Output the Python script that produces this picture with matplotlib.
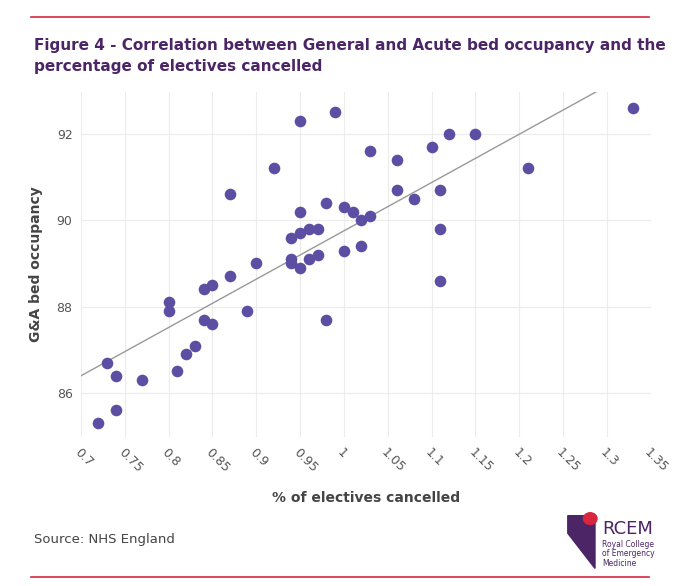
import matplotlib
matplotlib.use('agg')
from matplotlib import pyplot as plt
import numpy as np

cancelled = [0.72, 0.73, 0.74, 0.74, 0.77, 0.80, 0.80, 0.81, 0.82, 0.83, 0.84, 0.84, 0.85, 0.85,
             0.87, 0.87, 0.89, 0.90, 0.92, 0.94, 0.94, 0.94, 0.95, 0.95, 0.95, 0.95, 0.96, 0.96,
             0.97, 0.97, 0.98, 0.98, 0.99, 1.00, 1.00, 1.01, 1.02, 1.02, 1.03, 1.03, 1.06, 1.06,
             1.08, 1.10, 1.11, 1.11, 1.11, 1.12, 1.15, 1.21, 1.33]
occupancy = [85.3, 86.7, 86.4, 85.6, 86.3, 88.1, 87.9, 86.5, 86.9, 87.1, 88.4, 87.7, 88.5, 87.6,
             88.7, 90.6, 87.9, 89.0, 91.2, 89.6, 89.1, 89.0, 92.3, 90.2, 89.7, 88.9, 89.8, 89.1,
             89.8, 89.2, 90.4, 87.7, 92.5, 90.3, 89.3, 90.2, 90.0, 89.4, 91.6, 90.1, 91.4, 90.7,
             90.5, 91.7, 90.7, 89.8, 88.6, 92.0, 92.0, 91.2, 92.6]
trend_x = [0.70, 1.29]
trend_y = [86.4, 93.0]
x_ticks = [0.7, 0.75, 0.8, 0.85, 0.9, 0.95, 1, 1.05, 1.1, 1.15, 1.2, 1.25, 1.3, 1.35]
y_ticks = [86, 88, 90, 92]

purple = '#5b4ea3'
red = '#d7263d'
text_grey = '#444444'

fig = plt.figure(figsize=(6.8, 5.86), dpi=100)
ax = fig.add_axes([0.119, 0.254, 0.838, 0.589])

ax.plot(trend_x, trend_y, color='#999999', linewidth=1, zorder=2)
ax.scatter(cancelled, occupancy, s=70, color=purple, zorder=3, linewidths=0)

ax.set_xlim(0.7, 1.35)
ax.set_ylim(84.98, 92.97)
ax.set_xticks(x_ticks)
ax.set_xticklabels([f'{t:g}' for t in x_ticks], rotation=-45, ha='left', rotation_mode='anchor')
ax.set_yticks(y_ticks)
ax.tick_params(length=0, labelsize=9, colors='#555555', pad=6)
ax.grid(color='#ececec', linewidth=0.8)
ax.set_axisbelow(True)
for s in ax.spines.values():
    s.set_visible(False)

ax.set_xlabel('% of electives cancelled', fontsize=10, fontweight='bold', color=text_grey, labelpad=12)
ax.set_ylabel('G&A bed occupancy', fontsize=10, fontweight='bold', color=text_grey, labelpad=10)

fig.text(0.05, 0.905, 'Figure 4 - Correlation between General and Acute bed occupancy and the\n'
         'percentage of electives cancelled', fontsize=11, fontweight='bold', color='#4b2566',
         va='center', linespacing=1.5)
fig.text(0.05, 0.08, 'Source: NHS England', fontsize=9.5, color=text_grey, va='center')

fig.add_artist(plt.Line2D([0.045, 0.955], [0.971, 0.971], color=red, linewidth=1.2))
fig.add_artist(plt.Line2D([0.045, 0.955], [0.015, 0.015], color=red, linewidth=1.2))

fig.text(0.885, 0.098, 'RCEM', fontsize=13, color='#4b2566', va='center')
fig.text(0.885, 0.055, 'Royal College\nof Emergency\nMedicine', fontsize=5.5, color='#4b2566',
         va='center', linespacing=1.1)
fig.patches.append(plt.Polygon([[0.835, 0.12], [0.875, 0.12], [0.875, 0.03], [0.835, 0.09]],
                               closed=True, color='#4b2566', transform=fig.transFigure))
fig.patches.append(plt.Circle((0.868, 0.115), 0.01, color=red, transform=fig.transFigure))

plt.savefig('out.png', facecolor='white', dpi=100)
